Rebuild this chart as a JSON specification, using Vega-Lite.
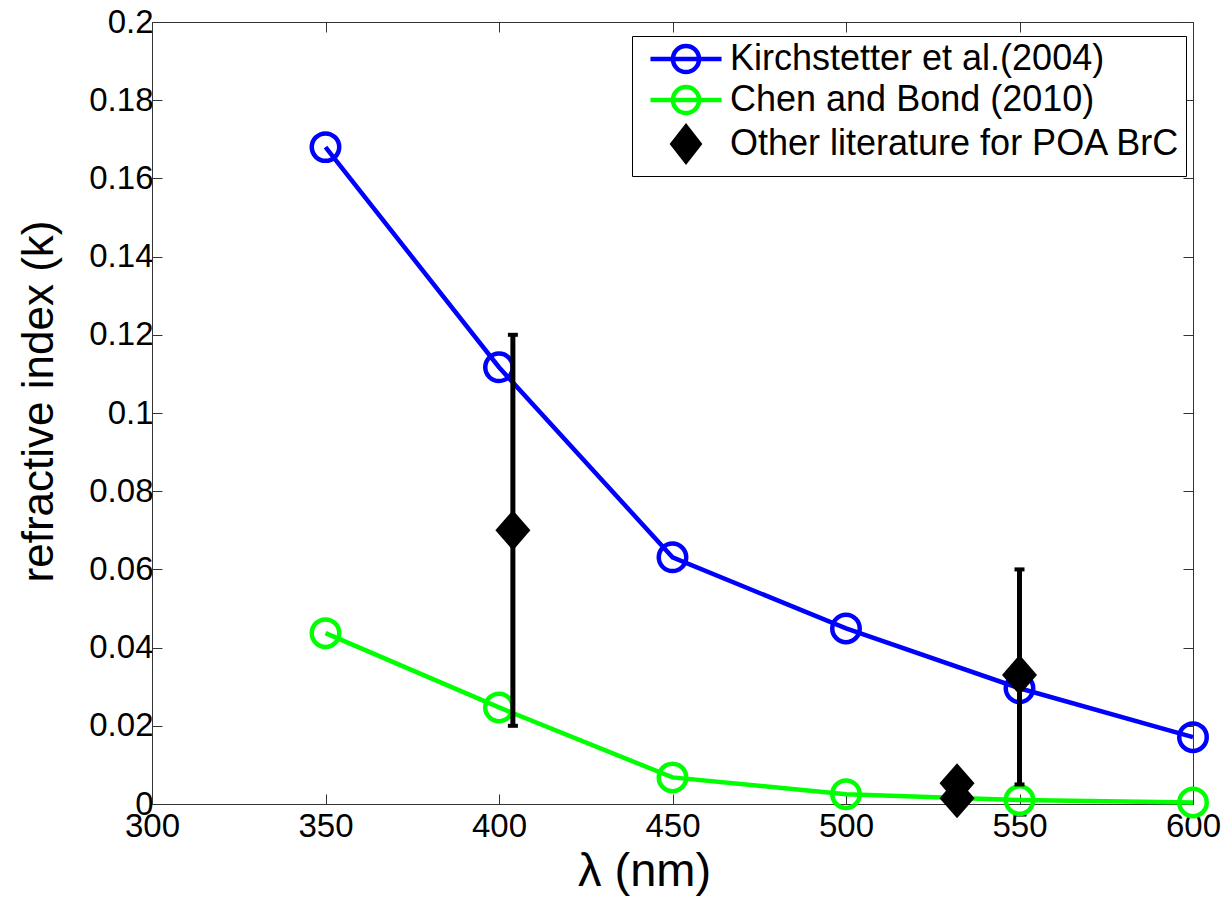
{
  "$schema": "https://vega.github.io/schema/vega-lite/v6.json",
  "width": 1041,
  "height": 782,
  "autosize": {"type": "none"},
  "padding": {"left": 152, "top": 22, "right": 34, "bottom": 94},
  "background": "white",
  "config": {
    "view": {"stroke": null},
    "font": "Liberation Sans",
    "axis": {
      "domainColor": "#333333",
      "tickColor": "#333333",
      "tickSize": -10,
      "labelFont": "Liberation Sans",
      "labelFontSize": 33,
      "labelColor": "black",
      "titleFont": "Liberation Sans",
      "titleFontSize": 44,
      "titleFontWeight": "normal",
      "titleColor": "black",
      "grid": false,
      "labelFlush": false,
      "labelOverlap": false
    }
  },
  "datasets": {
    "curves": [
      {"series": "Kirchstetter et al.(2004)", "wavelength": 350, "k": 0.168},
      {"series": "Kirchstetter et al.(2004)", "wavelength": 400, "k": 0.1117},
      {"series": "Kirchstetter et al.(2004)", "wavelength": 450, "k": 0.0631},
      {"series": "Kirchstetter et al.(2004)", "wavelength": 500, "k": 0.0449},
      {"series": "Kirchstetter et al.(2004)", "wavelength": 550, "k": 0.0296},
      {"series": "Kirchstetter et al.(2004)", "wavelength": 600, "k": 0.0171},
      {"series": "Chen and Bond (2010)", "wavelength": 350, "k": 0.0437},
      {"series": "Chen and Bond (2010)", "wavelength": 400, "k": 0.0247},
      {"series": "Chen and Bond (2010)", "wavelength": 450, "k": 0.0068},
      {"series": "Chen and Bond (2010)", "wavelength": 500, "k": 0.0025},
      {"series": "Chen and Bond (2010)", "wavelength": 550, "k": 0.001},
      {"series": "Chen and Bond (2010)", "wavelength": 600, "k": 0.0004}
    ],
    "lit": [
      {"series": "Other literature for POA BrC", "wavelength": 404, "k": 0.07, "kmin": 0.02, "kmax": 0.12},
      {"series": "Other literature for POA BrC", "wavelength": 550, "k": 0.033, "kmin": 0.005, "kmax": 0.06},
      {"series": "Other literature for POA BrC", "wavelength": 532, "k": 0.0053, "kmin": null, "kmax": null},
      {"series": "Other literature for POA BrC", "wavelength": 532, "k": 0.0015, "kmin": null, "kmax": null}
    ]
  },
  "layer": [
    {
      "layer": [
        {
          "data": {"name": "curves"},
          "mark": {"type": "line", "strokeWidth": 4.5},
          "encoding": {
            "x": {
              "field": "wavelength", "type": "quantitative",
              "scale": {"domain": [300, 600], "nice": false, "zero": false},
              "axis": {
                "values": [300, 350, 400, 450, 500, 550, 600],
                "format": "d",
                "labelPadding": 42,
                "labelBaseline": "alphabetic",
                "title": "λ (nm)",
                "titleX": 492,
                "titleY": 81,
                "titleFontSize": 47,
                "titleBaseline": "alphabetic"
              }
            },
            "y": {
              "field": "k", "type": "quantitative",
              "scale": {"domain": [0, 0.2], "nice": false, "zero": true},
              "axis": {
                "values": [0, 0.02, 0.04, 0.06, 0.08, 0.1, 0.12, 0.14, 0.16, 0.18, 0.2],
                "format": ".2~f",
                "labelPadding": 9,
                "title": "refractive index (k)",
                "titleX": -100,
                "titleY": 379,
                "titleBaseline": "alphabetic"
              }
            },
            "color": {
              "field": "series", "type": "nominal",
              "scale": {
                "domain": ["Kirchstetter et al.(2004)", "Chen and Bond (2010)", "Other literature for POA BrC"],
                "range": ["#0000ff", "#00ff00", "#000000"]
              },
              "legend": {
                "title": null,
                "orient": "none",
                "legendX": 480,
                "legendY": 14,
                "padding": 5,
                "strokeColor": "#000000",
                "fillColor": "white",
                "cornerRadius": 0,
                "labelFont": "Liberation Sans",
                "labelFontSize": 36,
                "labelColor": "black",
                "labelLimit": 700,
                "symbolSize": 900,
                "symbolStrokeWidth": 4,
                "symbolOffset": 31,
                "labelOffset": 26,
                "rowPadding": -6,
                "encode": {
                  "symbols": {
                    "update": {
                      "shape": [
                        {"test": "datum.value === 'Other literature for POA BrC'", "value": "M0,-1.15L0.9,0L0,1.15L-0.9,0Z"},
                        {"value": "M-2.37,0L2.37,0M-0.87,0A0.87,0.87 0 1 1 0.87,0A0.87,0.87 0 1 1 -0.87,0"}
                      ],
                      "fill": [
                        {"test": "datum.value === 'Other literature for POA BrC'", "value": "black"},
                        {"value": "transparent"}
                      ],
                      "stroke": [
                        {"test": "datum.value === 'Kirchstetter et al.(2004)'", "value": "#0000ff"},
                        {"test": "datum.value === 'Chen and Bond (2010)'", "value": "#00ff00"},
                        {"value": "black"}
                      ],
                      "strokeWidth": {"value": 4.5},
                      "opacity": {"value": 1}
                    }
                  }
                }
              }
            }
          }
        },
        {
          "data": {"name": "curves"},
          "mark": {"type": "point", "shape": "circle", "filled": false, "size": 755, "strokeWidth": 4.5, "opacity": 1},
          "encoding": {
            "x": {"field": "wavelength", "type": "quantitative"},
            "y": {"field": "k", "type": "quantitative"},
            "color": {"field": "series", "type": "nominal"}
          }
        },
        {
          "data": {"name": "lit"},
          "transform": [{"filter": "datum.kmin != null"}],
          "mark": {"type": "rule", "strokeWidth": 5, "color": "black"},
          "encoding": {
            "x": {"field": "wavelength", "type": "quantitative"},
            "y": {"field": "kmin", "type": "quantitative"},
            "y2": {"field": "kmax"}
          }
        },
        {
          "data": {"name": "lit"},
          "transform": [{"filter": "datum.kmin != null"}],
          "mark": {"type": "tick", "orient": "horizontal", "size": 10, "thickness": 4, "color": "black", "opacity": 1},
          "encoding": {
            "x": {"field": "wavelength", "type": "quantitative"},
            "y": {"field": "kmin", "type": "quantitative"}
          }
        },
        {
          "data": {"name": "lit"},
          "transform": [{"filter": "datum.kmax != null"}],
          "mark": {"type": "tick", "orient": "horizontal", "size": 10, "thickness": 4, "color": "black", "opacity": 1},
          "encoding": {
            "x": {"field": "wavelength", "type": "quantitative"},
            "y": {"field": "kmax", "type": "quantitative"}
          }
        },
        {
          "data": {"name": "lit"},
          "mark": {"type": "point", "shape": "M0,-1.15L1,0L0,1.15L-1,0Z", "filled": true, "size": 1225, "color": "black", "opacity": 1},
          "encoding": {
            "x": {"field": "wavelength", "type": "quantitative"},
            "y": {"field": "k", "type": "quantitative"}
          }
        }
      ]
    },
    {
      "data": {"name": "curves"},
      "mark": {"type": "point", "opacity": 0},
      "encoding": {
        "x": {
          "field": "wavelength", "type": "quantitative",
          "axis": {"orient": "top", "labels": false, "title": null, "values": [300, 350, 400, 450, 500, 550, 600]}
        },
        "y": {
          "field": "k", "type": "quantitative",
          "axis": {"orient": "right", "labels": false, "title": null, "values": [0, 0.02, 0.04, 0.06, 0.08, 0.1, 0.12, 0.14, 0.16, 0.18, 0.2]}
        }
      }
    }
  ],
  "resolve": {"axis": {"x": "independent", "y": "independent"}}
}
